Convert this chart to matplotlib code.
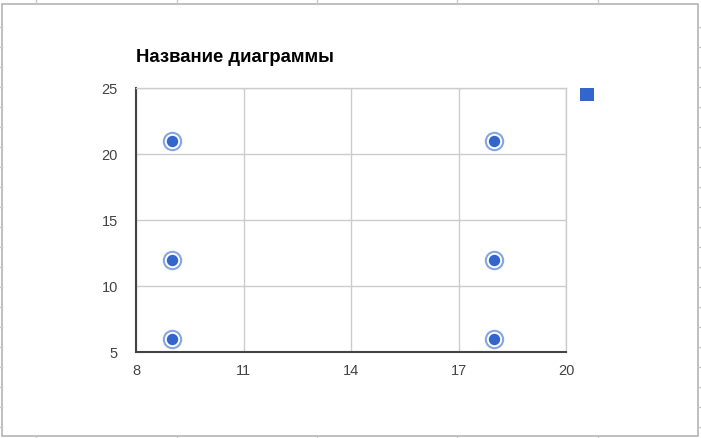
import matplotlib
matplotlib.use("Agg")
import matplotlib.pyplot as plt
from matplotlib.lines import Line2D
from matplotlib.patches import Rectangle

plt.rcParams['font.family'] = ['Liberation Sans', 'DejaVu Sans']

title = "Название диаграммы"
x_vals = [9, 9, 9, 18, 18, 18]
y_vals = [21, 12, 6, 21, 12, 6]
x_ticks = [8, 11, 14, 17, 20]
y_ticks = [5, 10, 15, 20, 25]

W, H = 701, 439
fig = plt.figure(figsize=(W / 100, H / 100), dpi=100)
fig.patch.set_facecolor('white')

def fx(px):
    return px / W

def fy(py):
    return 1 - py / H

# spreadsheet grid around the chart
grid_c = '#c8c8c8'
for xv in [36, 177, 317, 457, 598]:
    fig.add_artist(Line2D([fx(xv), fx(xv)], [fy(0), fy(5)], color=grid_c, lw=1))
    fig.add_artist(Line2D([fx(xv), fx(xv)], [fy(437), fy(439)], color=grid_c, lw=1))
for yv in range(28, 437, 20):
    fig.add_artist(Line2D([fx(0), fx(2)], [fy(yv), fy(yv)], color=grid_c, lw=1))
    fig.add_artist(Line2D([fx(698), fx(701)], [fy(yv), fy(yv)], color=grid_c, lw=1))
# chart border
fig.add_artist(Rectangle((fx(2), fy(437)), fx(696), (437 - 5) / H, fill=False,
                         edgecolor='#b4b4b4', lw=1.2))

ax = fig.add_axes([fx(136), fy(353), fx(566 - 136), (353 - 89) / H])
ax.set_xlim(8, 20)
ax.set_ylim(5, 25)
ax.set_xticks(x_ticks)
ax.set_yticks(y_ticks)
ax.grid(True, color='#cccccc', lw=1)
ax.set_axisbelow(True)
for s in ['top', 'right']:
    ax.spines[s].set_color('#cccccc')
    ax.spines[s].set_linewidth(1)
for s in ['left', 'bottom']:
    ax.spines[s].set_color('#444444')
    ax.spines[s].set_linewidth(1.5)
ax.tick_params(length=0, labelsize=10.5, colors='#444444')
ax.tick_params(axis='y', pad=13)
ax.tick_params(axis='x', pad=8)

ax.scatter(x_vals, y_vals, s=12.5 ** 2, facecolor='white', edgecolor='#86a5e3',
           linewidth=1.5, zorder=3)
ax.scatter(x_vals, y_vals, s=7.2 ** 2, color='#3366cc', zorder=4)

fig.text(fx(136), fy(58), title, fontsize=13.3, fontweight='bold', color='#000000',
         va='center', ha='left')

# legend marker
fig.add_artist(Rectangle((fx(580), fy(102)), fx(13.5), 13 / H, facecolor='#3366cc',
                         edgecolor='none'))

fig.savefig('out.png', dpi=100)
